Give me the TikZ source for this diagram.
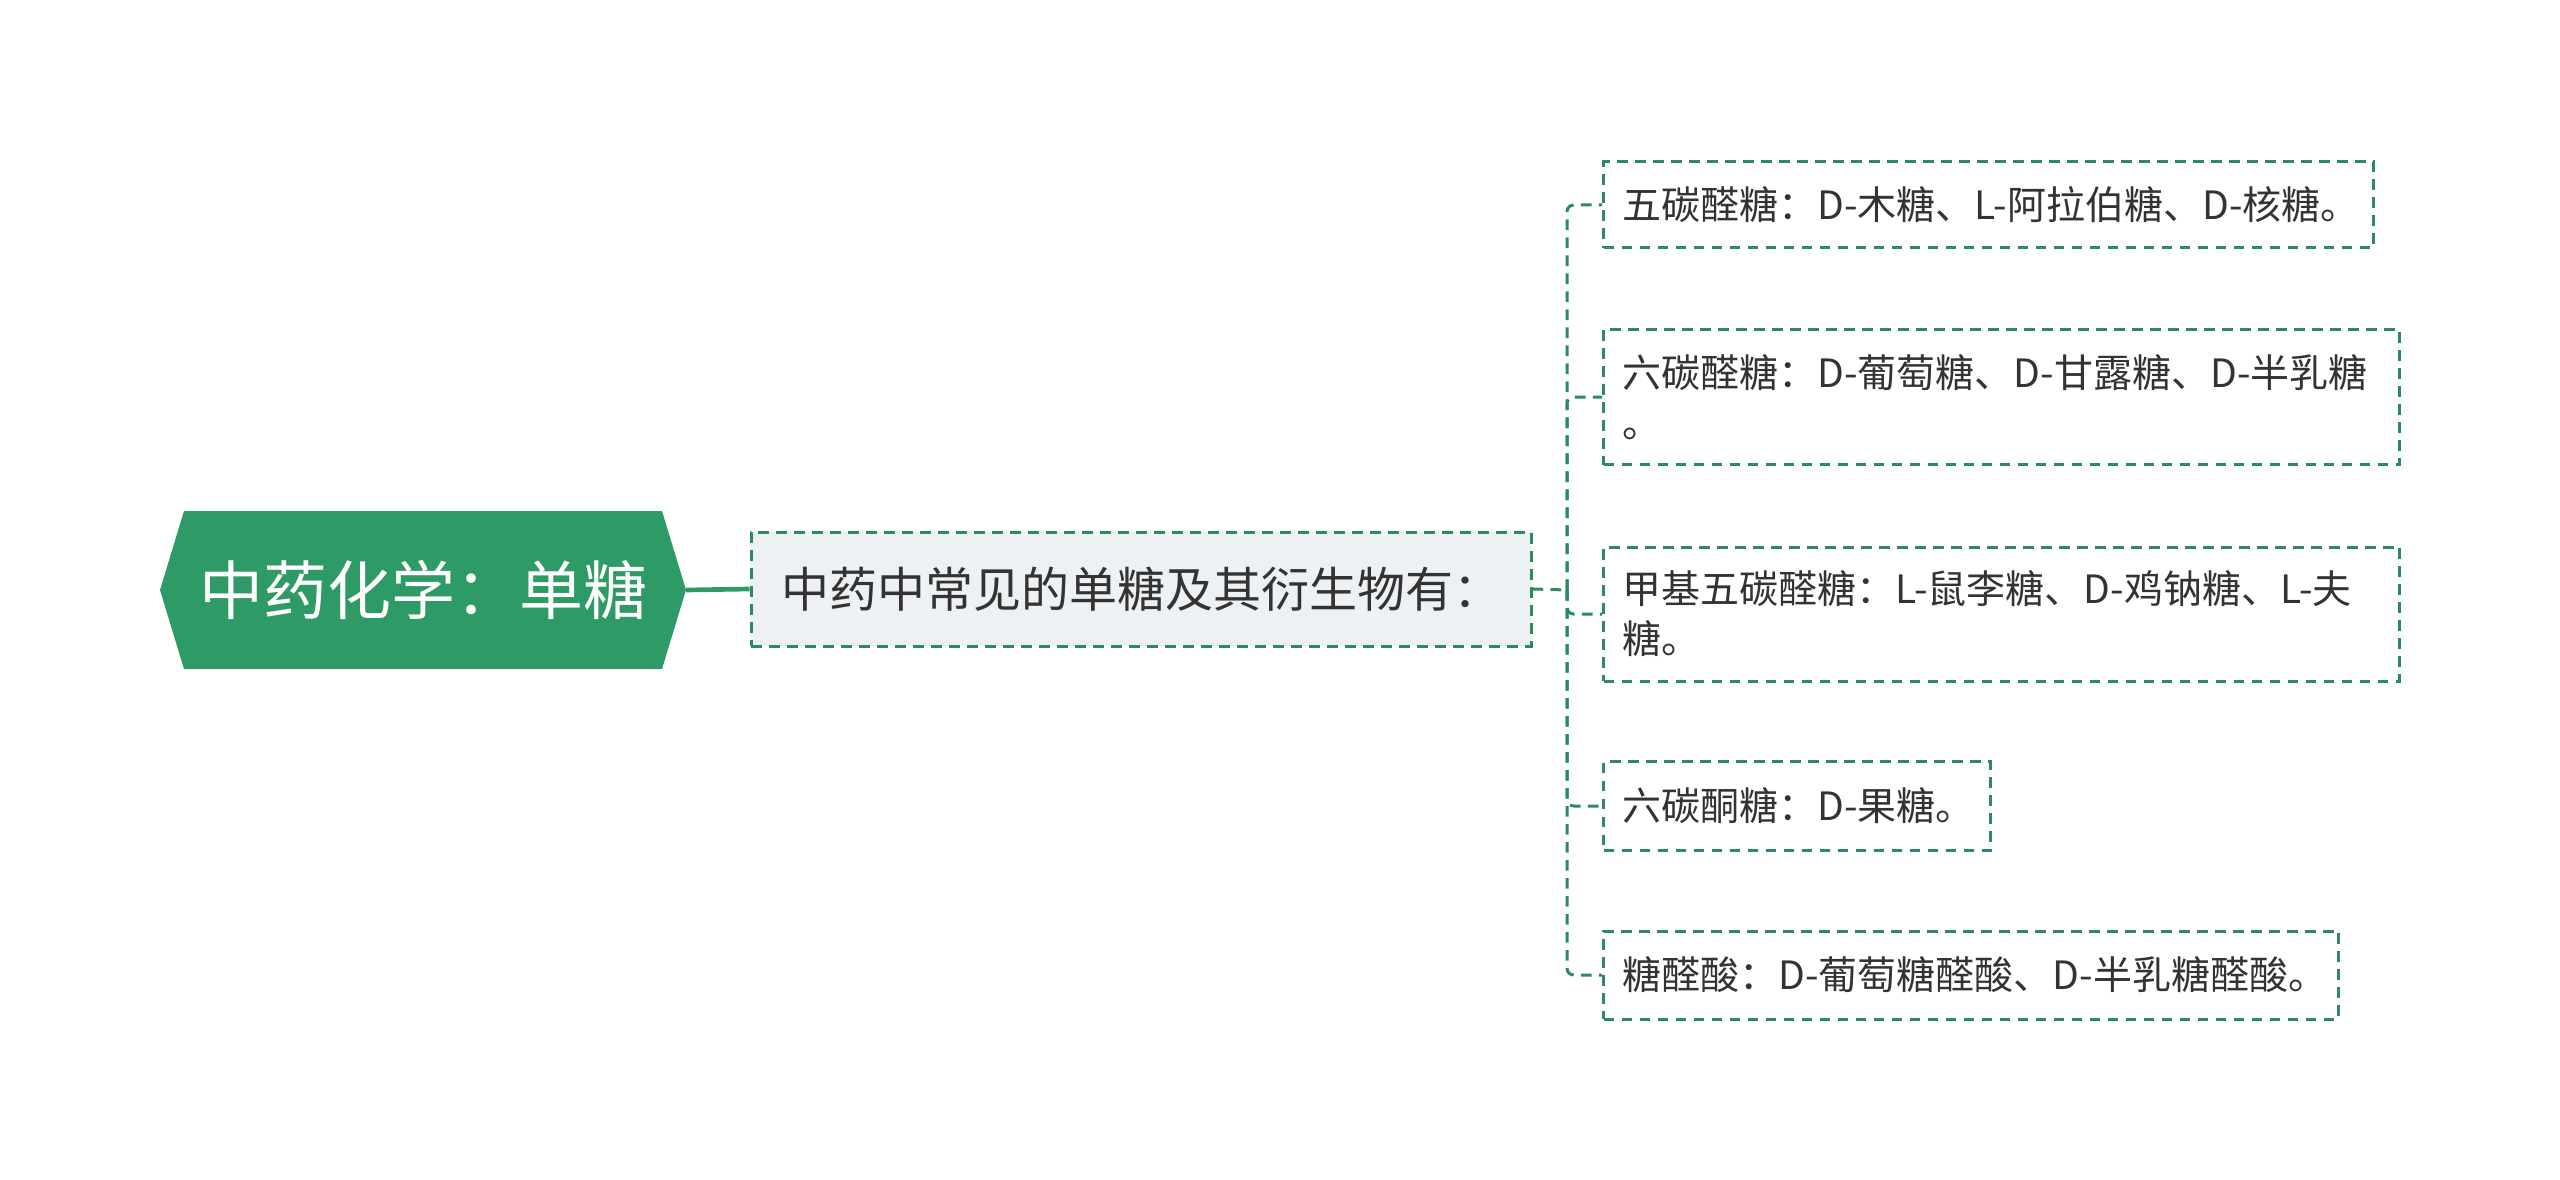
\documentclass[tikz,border=0pt]{standalone}
\usepackage{fontspec}
\newfontfamily\cjk{Noto Sans CJK SC}
\definecolor{gr}{HTML}{2E9A66}
\definecolor{dgr}{HTML}{2B8A5F}
\definecolor{cfill}{HTML}{EEF1F4}
\definecolor{txt}{HTML}{333333}
\begin{document}
\begin{tikzpicture}[x=0.3pt,y=-0.3pt,
  dsh/.style={draw=dgr,line width=0.9pt,dash pattern=on 3.2pt off 2.2pt},
  leaf/.style={dsh,fill=white,anchor=west,inner xsep=5.7pt,inner ysep=0pt,align=left,text=txt,font=\cjk\fontsize{11.7pt}{15pt}\selectfont},
  conn/.style={dsh,rounded corners=2pt},
]
\useasboundingbox (0,0) rectangle (2560,1180);
% root hexagon
\fill[gr] (160,590) -- (184,511) -- (662,511) -- (686,590) -- (662,669) -- (184,669) -- cycle;
\node[text=white,font=\cjk\fontsize{19.2pt}{22pt}\selectfont] (root) at (423,590) {中药化学：单糖};
\coordinate (rootR) at (686,590);
% child
\node[dsh,fill=cfill,minimum width=234pt,minimum height=34.2pt,text=txt,font=\cjk\fontsize{14.4pt}{17pt}\selectfont] (child) at (1141,589) {中药中常见的单糖及其衍生物有：};
\draw[gr,line width=1.4pt] (rootR) -- (child.west);
% leaves
\node[leaf,text width=219.6pt,minimum height=25.8pt] (l1) at (1602,205) {\mbox{五碳醛糖：D-木糖、L-阿拉伯糖、D-核糖。}};
\node[leaf,text width=227.4pt,minimum height=40.5pt] (l2) at (1602,397) {\mbox{六碳醛糖：D-葡萄糖、D-甘露糖、D-半乳糖}\\。};
\node[leaf,text width=227.4pt,minimum height=40.2pt] (l3) at (1602,614) {\mbox{甲基五碳醛糖：L-鼠李糖、D-鸡钠糖、L-夫}\\糖。};
\node[leaf,text width=104.7pt,minimum height=26.7pt] (l4) at (1602,806) {\mbox{六碳酮糖：D-果糖。}};
\node[leaf,text width=209.1pt,minimum height=26.4pt] (l5) at (1602,975) {\mbox{糖醛酸：D-葡萄糖醛酸、D-半乳糖醛酸。}};
\coordinate (bus) at (1567,590);
\draw[dsh] (child.east) -- (bus);
\foreach \l in {l1,l2,l3,l4,l5} \draw[conn] (bus) |- (\l.west);
\end{tikzpicture}
\end{document}
